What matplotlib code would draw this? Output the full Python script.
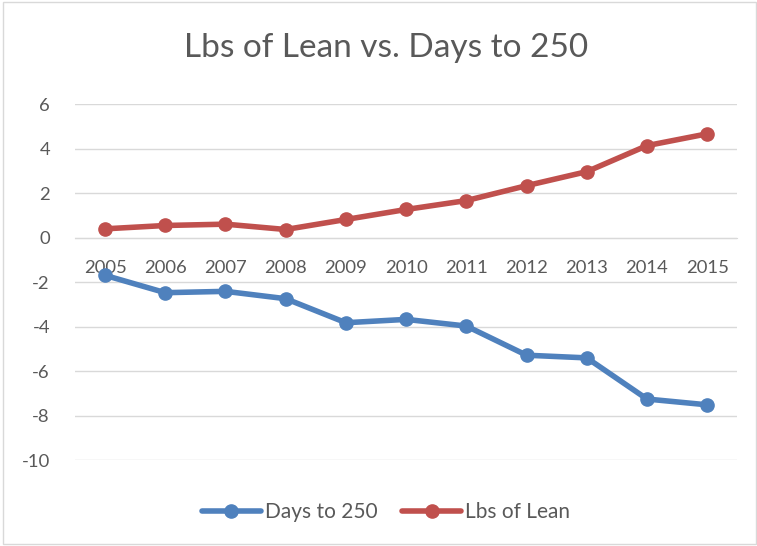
import matplotlib.pyplot as plt
from matplotlib.patches import Rectangle

years = ["2005", "2006", "2007", "2008", "2009", "2010",
         "2011", "2012", "2013", "2014", "2015"]
days_to_250 = [-1.70, -2.48, -2.42, -2.75, -3.83, -3.68, -3.98, -5.29, -5.41, -7.26, -7.52]
lbs_of_lean = [0.39, 0.54, 0.60, 0.36, 0.81, 1.26, 1.66, 2.33, 2.96, 4.13, 4.66]
y_ticks = [-10, -8, -6, -4, -2, 0, 2, 4, 6]

plt.rcParams['font.family'] = ['Lato', 'DejaVu Sans']
text_col = "#595959"

fig = plt.figure(figsize=(7.57, 5.46), dpi=100)
ax = fig.add_axes([0.099, 0.1575, 0.875, 0.652])

x = list(range(len(years)))
ax.plot(x, days_to_250, color="#4F81BD", lw=4, marker="o", ms=9.5, label="Days to 250",
        solid_capstyle="round", zorder=3)
ax.plot(x, lbs_of_lean, color="#C0504D", lw=4, marker="o", ms=9.5, label="Lbs of Lean",
        solid_capstyle="round", zorder=3)

ax.set_xlim(-0.5, len(years) - 0.5)
ax.set_ylim(-10, 6)
ax.set_yticks(y_ticks)
ax.set_yticklabels([str(v) for v in y_ticks])
ax.set_xticks(x)
ax.set_xticklabels(years)
ax.grid(axis="y", color="#d9d9d9", lw=1)
ax.set_axisbelow(True)

for s in ["top", "right", "left"]:
    ax.spines[s].set_visible(False)
ax.spines["bottom"].set_position(("data", 0))
ax.spines["bottom"].set_color("#d9d9d9")
ax.tick_params(axis="both", length=0, colors=text_col, labelsize=13.3)
ax.tick_params(axis="x", pad=16)
ax.tick_params(axis="y", pad=18)

fig.text(0.51, 0.912, "Lbs of Lean vs. Days to 250", ha="center", va="center",
         fontsize=24, color=text_col)

leg = fig.legend(loc="center", bbox_to_anchor=(0.51, 0.062), ncol=2, frameon=False,
                 fontsize=15, handlelength=2.8, columnspacing=1.2, handletextpad=0.2)
for t in leg.get_texts():
    t.set_color(text_col)

fig.patches.append(Rectangle((0.004, 0.004), 0.995, 0.992, transform=fig.transFigure,
                             fill=False, edgecolor="#d9d9d9", lw=1))

fig.savefig("out.png", dpi=100)
